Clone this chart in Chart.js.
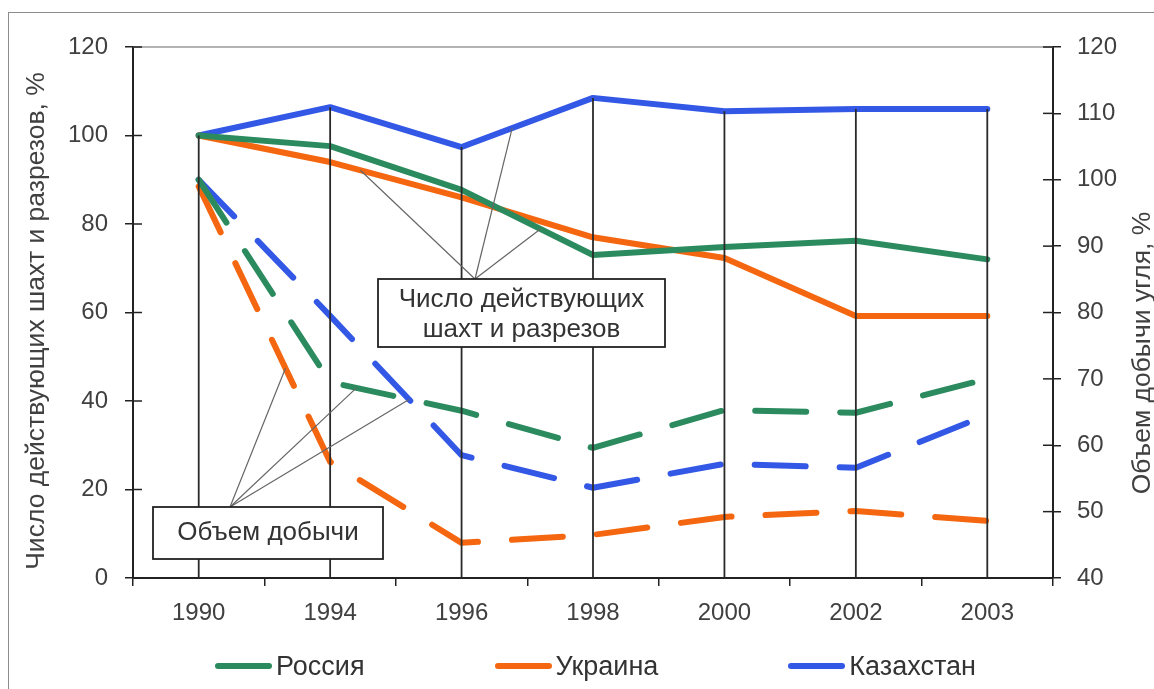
<!DOCTYPE html>
<html>
<head>
<meta charset="utf-8">
<script src="https://cdn.jsdelivr.net/npm/chart.js@4.4.1/dist/chart.umd.min.js"></script>
<style>
  html, body { margin: 0; padding: 0; background: #fff; }
  #wrap { position: relative; width: 1154px; height: 689px; overflow: hidden; font-family: "Liberation Sans", Arial, sans-serif; }
  #frame { position: absolute; left: 8px; top: 12px; width: 1160px; height: 720px; border: 1.5px solid #8c8c8c; }
  #chart { position: absolute; left: 0; top: 0; }
  .legend { position: absolute; left: 215px; top: 650px; margin: 0; padding: 0; list-style: none; display: flex; gap: 130px; }
  .legend li { display: flex; align-items: center; font-size: 27px; color: #333; line-height: 32px; }
  .legend li span.mark { display: inline-block; width: 57px; height: 6px; border-radius: 3px; margin-right: 4px; }
</style>
</head>
<body>
<div id="wrap">
  <div id="frame"></div>
  <canvas id="chart" width="1154" height="689"></canvas>
  <ul class="legend"></ul>
</div>
<script>
// categories
const years = ['1990', '1994', '1996', '1998', '2000', '2002', '2003'];

// number of working mines, % (left axis)
const minesRussia = [100, 97.6, 87.7, 73, 74.8, 76.2, 72];
const minesUkraine = [100, 94, 86, 77, 72.3, 59.2, 59.2];
const minesKazakhstan = [100, 106.4, 97.4, 108.5, 105.5, 106, 106];

// coal output, % (right axis)
const outputRussia = [100, 69.5, 65.2, 59.6, 65.3, 64.9, 70];
const outputUkraine = [99, 57.5, 45.3, 46.5, 49.2, 50.1, 48.6];
const outputKazakhstan = [100, 79.5, 58.5, 53.6, 57.2, 56.6, 64.6];

const countries = ['Россия', 'Украина', 'Казахстан'];
const colors = ['#2b8b5f', '#f4660f', '#3358e6'];

const leftTitle = 'Число действующих шахт и разрезов, %';
const rightTitle = 'Объем добычи угля, %';
const minesLabel = ['Число действующих', 'шахт и разрезов'];
const outputLabel = 'Объем добычи';

const mines = [minesRussia, minesUkraine, minesKazakhstan];
const output = [outputRussia, outputUkraine, outputKazakhstan];

const datasets = [];
countries.forEach((c, i) => {
  datasets.push({
    label: c, data: mines[i], yAxisID: 'y',
    borderColor: colors[i], backgroundColor: colors[i],
    borderWidth: 6, pointRadius: 0, tension: 0,
    borderCapStyle: 'round', borderJoinStyle: 'round'
  });
});
countries.forEach((c, i) => {
  datasets.push({
    label: c + ' (добыча)', data: output[i], yAxisID: 'y1',
    borderColor: colors[i], backgroundColor: colors[i],
    borderWidth: 6, pointRadius: 0, tension: 0,
    borderDash: [51, 34], borderCapStyle: 'round', borderJoinStyle: 'round'
  });
});

const tickFont = { family: '"Liberation Sans", Arial, sans-serif', size: 24 };

// point on a dataset line, t of the way from category i to i+1
function linePoint(chart, ds, i, t) {
  const meta = chart.getDatasetMeta(ds);
  const a = meta.data[i], b = meta.data[i + 1];
  return { x: a.x + (b.x - a.x) * t, y: a.y + (b.y - a.y) * t };
}

const extras = {
  id: 'extras',
  beforeDatasetsDraw(chart) {
    const { ctx, chartArea } = chart;
    // top border of the plot
    ctx.save();
    ctx.strokeStyle = '#9a9a9a';
    ctx.lineWidth = 1.5;
    ctx.beginPath();
    ctx.moveTo(chartArea.left, chartArea.top);
    ctx.lineTo(chartArea.right, chartArea.top);
    ctx.stroke();
    ctx.restore();
  },
  afterDatasetsDraw(chart) {
    const { ctx, chartArea, scales } = chart;
    ctx.save();

    // drop lines to the highest solid line
    ctx.strokeStyle = '#2a2a2a';
    ctx.lineWidth = 1.8;
    years.forEach((y, i) => {
      const top = Math.max(minesRussia[i], minesUkraine[i], minesKazakhstan[i]);
      const x = scales.x.getPixelForValue(i);
      ctx.beginPath();
      ctx.moveTo(x, chartArea.bottom);
      ctx.lineTo(x, scales.y.getPixelForValue(top));
      ctx.stroke();
    });

    // inner halves of the y ticks
    ctx.lineWidth = 1.5;
    ctx.strokeStyle = '#222';
    scales.y.ticks.forEach((t, i) => {
      const py = scales.y.getPixelForTick(i);
      ctx.beginPath(); ctx.moveTo(chartArea.left, py); ctx.lineTo(chartArea.left + 9, py); ctx.stroke();
    });
    scales.y1.ticks.forEach((t, i) => {
      const py = scales.y1.getPixelForTick(i);
      ctx.beginPath(); ctx.moveTo(chartArea.right - 10, py); ctx.lineTo(chartArea.right, py); ctx.stroke();
    });

    // callouts
    const box1 = { x: 378, y: 279, w: 287, h: 68, ox: 475 };
    const box2 = { x: 153, y: 507, w: 230, h: 52, ox: 230 };
    const call1 = [linePoint(chart, 1, 1, 0.23), linePoint(chart, 2, 2, 0.385), linePoint(chart, 0, 2, 0.6)];
    const call2 = [linePoint(chart, 4, 0, 0.66), linePoint(chart, 3, 1, 0.2), linePoint(chart, 5, 1, 0.6)];
    ctx.strokeStyle = '#666';
    ctx.lineWidth = 1.2;
    call1.forEach(p => { ctx.beginPath(); ctx.moveTo(box1.ox, box1.y); ctx.lineTo(p.x, p.y); ctx.stroke(); });
    call2.forEach(p => { ctx.beginPath(); ctx.moveTo(box2.ox, box2.y); ctx.lineTo(p.x, p.y); ctx.stroke(); });

    ctx.fillStyle = '#fff';
    ctx.strokeStyle = '#222';
    ctx.lineWidth = 1.8;
    [box1, box2].forEach(b => { ctx.fillRect(b.x, b.y, b.w, b.h); ctx.strokeRect(b.x, b.y, b.w, b.h); });

    ctx.fillStyle = '#333';
    ctx.font = '26px "Liberation Sans", Arial, sans-serif';
    ctx.textAlign = 'center';
    ctx.textBaseline = 'middle';
    ctx.fillText(minesLabel[0], box1.x + box1.w / 2, 300);
    ctx.fillText(minesLabel[1], box1.x + box1.w / 2, 330);
    ctx.fillText(outputLabel, box2.x + box2.w / 2, 533);

    // axis titles
    ctx.fillStyle = '#404040';
    ctx.font = '26.5px "Liberation Sans", Arial, sans-serif';
    ctx.save();
    ctx.translate(37, 321);
    ctx.rotate(-Math.PI / 2);
    ctx.fillText(leftTitle, 0, 0);
    ctx.restore();
    ctx.save();
    ctx.translate(1143, 353);
    ctx.rotate(-Math.PI / 2);
    ctx.fillText(rightTitle, 0, 0);
    ctx.restore();

    ctx.restore();
  }
};

new Chart(document.getElementById('chart'), {
  type: 'line',
  data: { labels: years, datasets: datasets },
  options: {
    responsive: false,
    animation: false,
    layout: { padding: { top: 47, left: 0, right: 0, bottom: 0 } },
    plugins: { legend: { display: false }, tooltip: { enabled: false } },
    scales: {
      x: {
        offset: true,
        afterFit: s => { s.height = 111; },
        grid: { offset: true, drawOnChartArea: false, drawTicks: true, tickLength: 8, color: '#222', lineWidth: 1.5 },
        border: { color: '#222', width: 2 },
        ticks: { color: '#404040', font: tickFont, padding: 13, maxRotation: 0 }
      },
      y: {
        position: 'left', min: 0, max: 120,
        afterFit: s => { s.width = 133; },
        grid: { drawOnChartArea: false, drawTicks: true, tickLength: 8, color: '#222', lineWidth: 1.5 },
        border: { color: '#222', width: 2 },
        ticks: { stepSize: 20, color: '#404040', font: tickFont, padding: 17 }
      },
      y1: {
        position: 'right', min: 40, max: 120,
        afterFit: s => { s.width = 101; },
        grid: { drawOnChartArea: false, drawTicks: true, tickLength: 8, color: '#222', lineWidth: 1.5 },
        border: { color: '#222', width: 2 },
        ticks: { stepSize: 10, color: '#404040', font: tickFont, padding: 16 }
      }
    }
  },
  plugins: [extras]
});

// legend
const ul = document.querySelector('.legend');
countries.forEach((c, i) => {
  const li = document.createElement('li');
  li.innerHTML = `<span class="mark" style="background:${colors[i]}"></span>${c}`;
  ul.appendChild(li);
});
</script>
</body>
</html>
